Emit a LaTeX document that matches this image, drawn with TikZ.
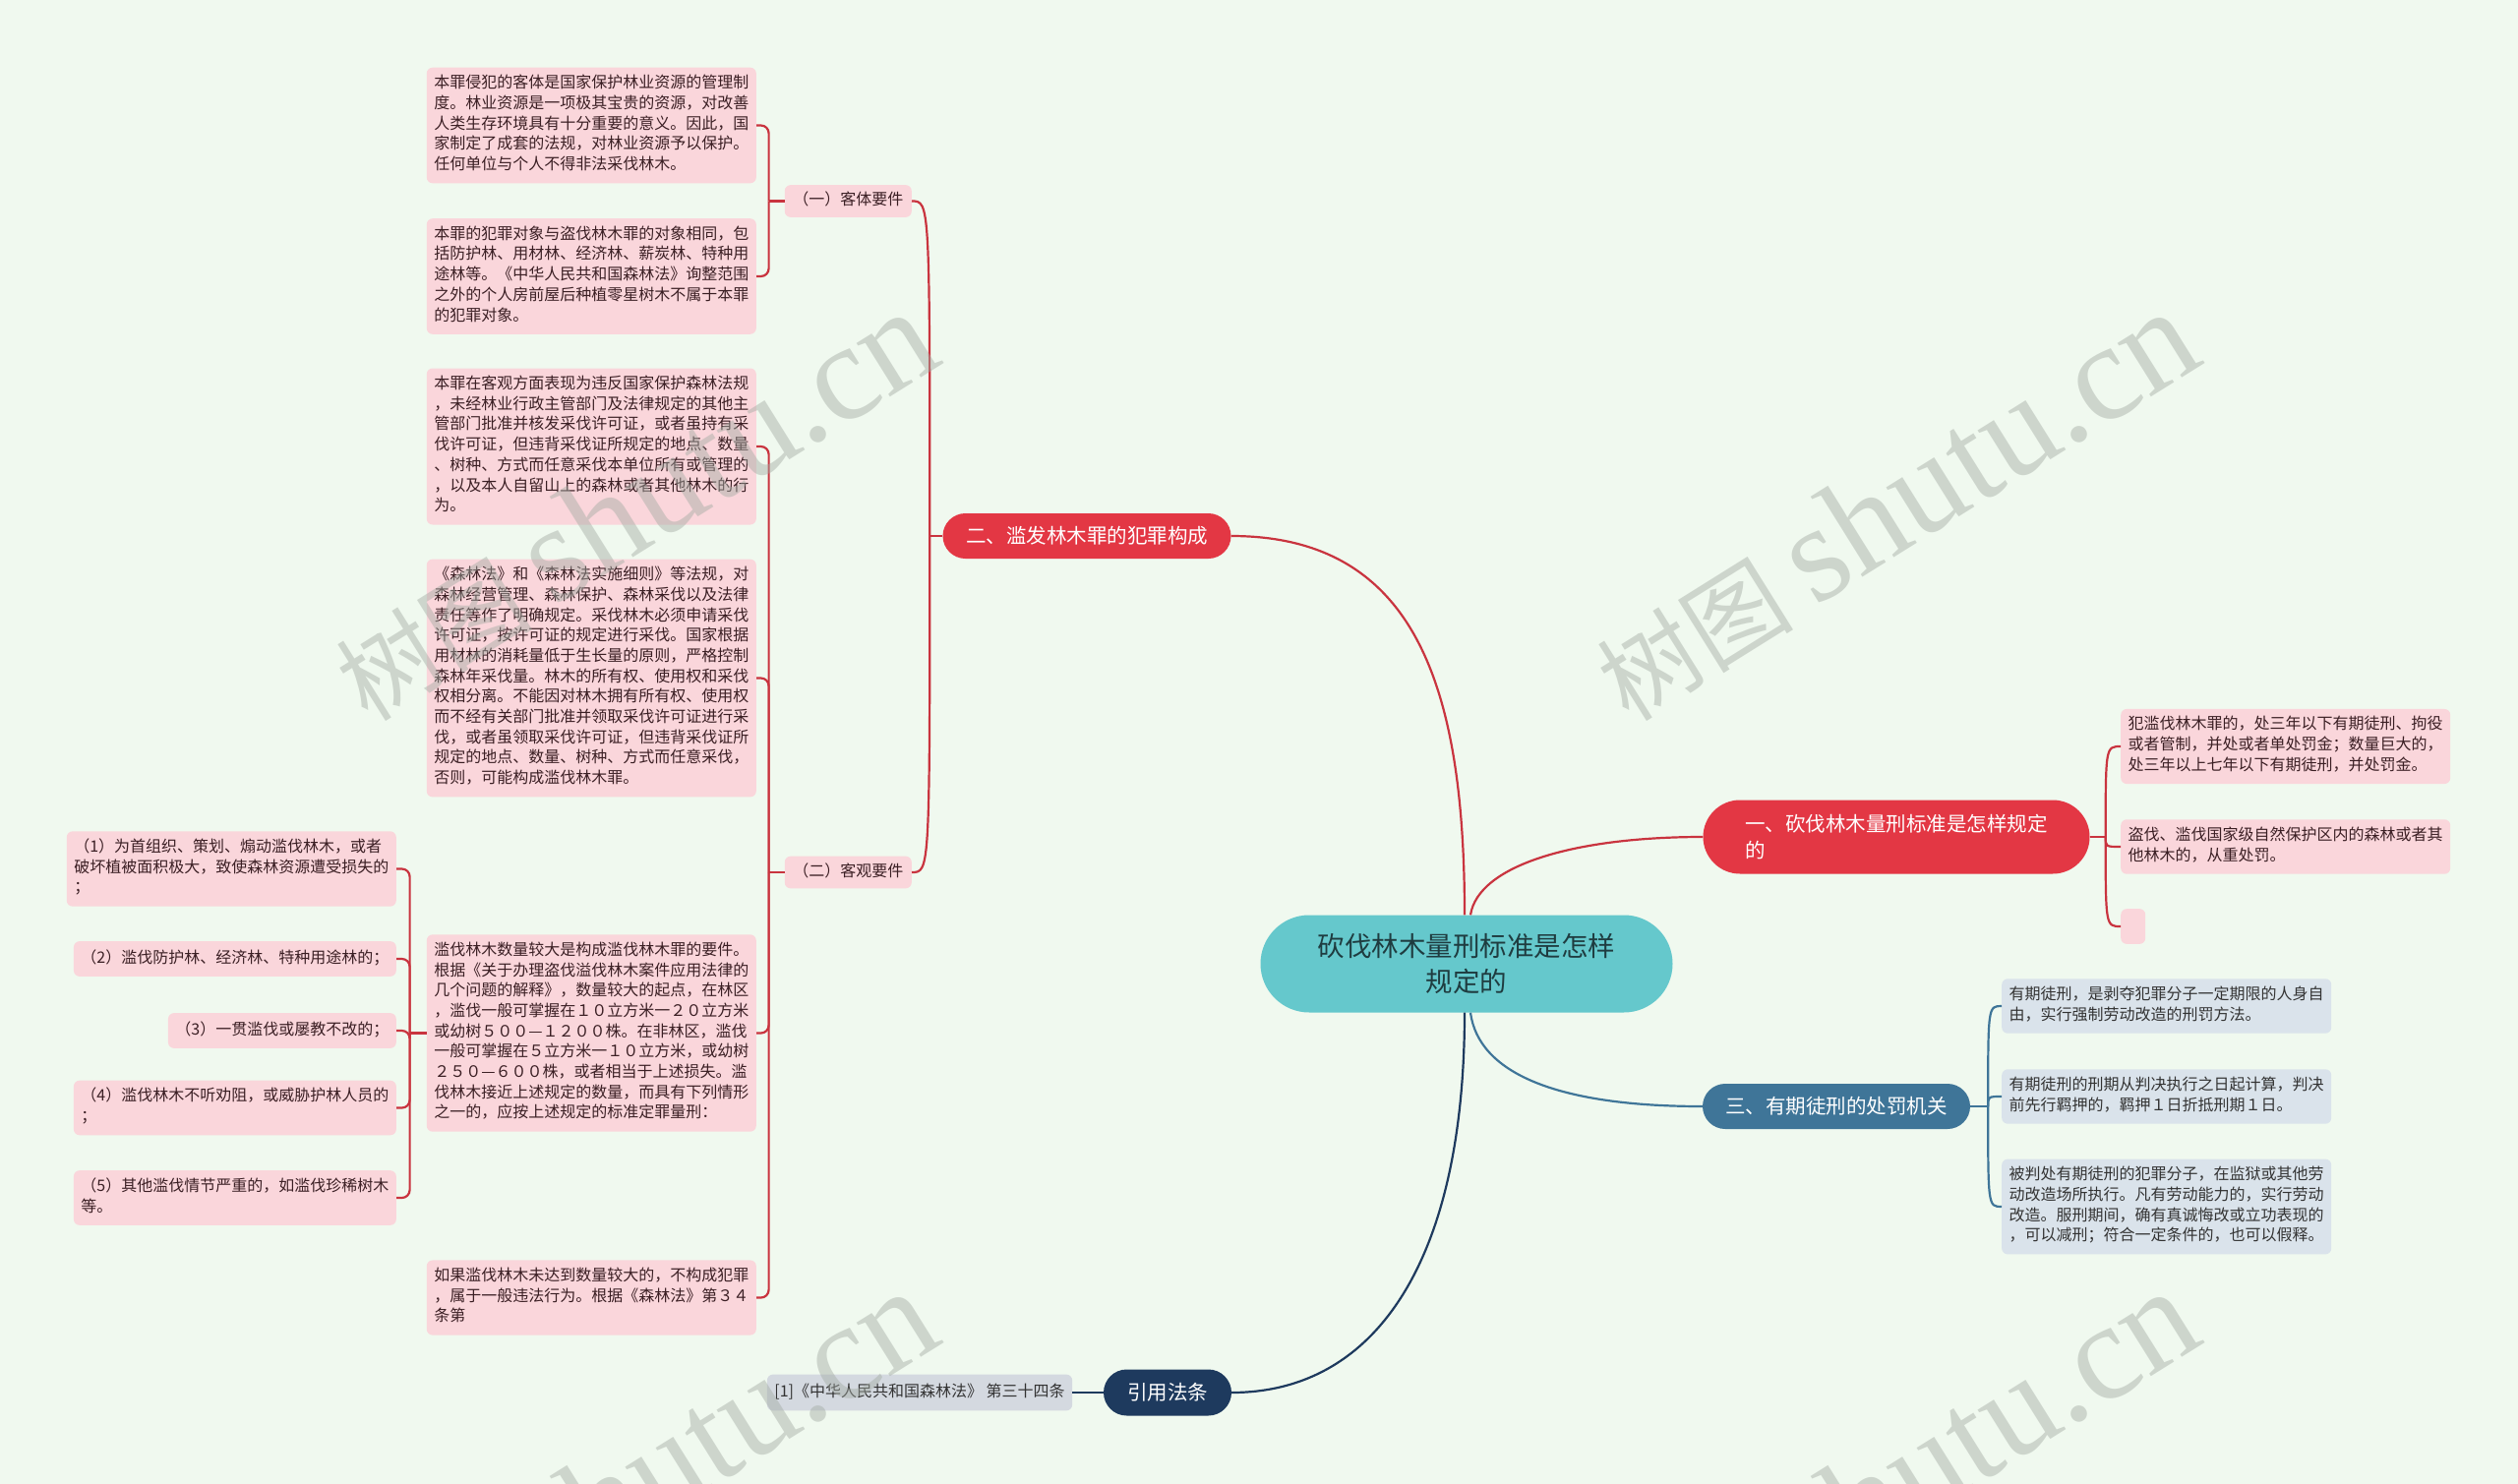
\documentclass[tikz,border=0pt]{standalone}
\usepackage{fontspec}
\setmainfont{Noto Sans CJK SC}
\newfontfamily\wmfont{Liberation Serif}
\usetikzlibrary{positioning,shapes.misc}
\definecolor{bgc}{HTML}{F0F9EF}
\definecolor{rootc}{HTML}{65C8CC}
\definecolor{rootx}{HTML}{1F3C40}
\definecolor{redc}{HTML}{E33744}
\definecolor{redl}{HTML}{C9343F}
\definecolor{pinkc}{HTML}{FAD6DB}
\definecolor{pinkx}{HTML}{3B1F24}
\definecolor{bluec}{HTML}{3F7598}
\definecolor{paleb}{HTML}{DAE3EB}
\definecolor{navyc}{HTML}{1E3A5E}
\definecolor{greyc}{HTML}{D4D9E0}
\definecolor{wmc}{HTML}{A3ABA3}

\begin{document}
\begin{tikzpicture}[x=1pt,y=-1pt,
  root/.style={rounded rectangle,fill=rootc,text=rootx,inner sep=0pt,minimum width=419pt,minimum height=99pt,align=center,font=\fontsize{27.5}{36.7}\selectfont},
  pill/.style={rounded rectangle,text=white,inner sep=0pt,minimum height=46pt,font=\fontsize{20.5}{27.7}\selectfont},
  leaf/.style={rounded corners=6pt,fill=pinkc,text=pinkx,align=left,inner xsep=7.5pt,inner ysep=7.5pt,font=\fontsize{16}{20.7}\selectfont,execute at begin node=\strut,execute at end node=\strut},
  bleaf/.style={leaf,fill=paleb,text=black!80},
  sub/.style={leaf,inner xsep=8.5pt,inner ysep=6pt},
  rl/.style={draw=redl,line width=2.2pt},
  bl/.style={draw=bluec,line width=2.2pt},
  nl/.style={draw=navyc,line width=2.2pt},
  wm/.style={text=wmc,opacity=0.45,rotate=32}]
  \fill[bgc] (0,0) rectangle (2560,1509);
  \useasboundingbox (0,0) rectangle (2560,1509);

  \node[root] (root) at (1491,980) {砍伐林木量刑标准是怎样\\规定的};
  \node[pill,fill=redc,align=left,minimum width=393pt,minimum height=75pt] (std) at (1928,851) {一、砍伐林木量刑标准是怎样规定\\的};
  \node[pill,fill=redc,minimum width=293pt] (crime) at (1105,545) {二、滥发林木罪的犯罪构成};
  \node[pill,fill=bluec,minimum width=272pt] (term) at (1867,1125) {三、有期徒刑的处罚机关};
  \node[pill,fill=navyc,minimum width=130pt,minimum height=47pt] (ref) at (1187,1416) {引用法条};
  \node[leaf,fill=greyc,text=black!80,inner ysep=8pt] (refs) at (935,1416) {[1]《中华人民共和国森林法》 第三十四条};

  \node[leaf,anchor=west] (std1) at (2156,759) {犯滥伐林木罪的，处三年以下有期徒刑、拘役\\或者管制，并处或者单处罚金；数量巨大的，\\处三年以上七年以下有期徒刑，并处罚金。};
  \node[leaf,anchor=west] (std2) at (2156,861) {盗伐、滥伐国家级自然保护区内的森林或者其\\他林木的，从重处罚。};
  \node[leaf,anchor=west,minimum width=25pt] (std3) at (2156,942) {};

  \node[bleaf,anchor=west] (term1) at (2035,1023) {有期徒刑，是剥夺犯罪分子一定期限的人身自\\由，实行强制劳动改造的刑罚方法。};
  \node[bleaf,anchor=west] (term2) at (2035,1115) {有期徒刑的刑期从判决执行之日起计算，判决\\前先行羁押的，羁押１日折抵刑期１日。};
  \node[bleaf,anchor=west] (term3) at (2035,1227) {被判处有期徒刑的犯罪分子，在监狱或其他劳\\动改造场所执行。凡有劳动能力的，实行劳动\\改造。服刑期间，确有真诚悔改或立功表现的\\，可以减刑；符合一定条件的，也可以假释。};

  \node[sub,anchor=east] (ke) at (927,204.5) {（一）客体要件};
  \node[sub,anchor=east] (kg) at (927,887) {（二）客观要件};

  \node[leaf,anchor=east] (ke1) at (769,127.5) {本罪侵犯的客体是国家保护林业资源的管理制\\度。林业资源是一项极其宝贵的资源，对改善\\人类生存环境具有十分重要的意义。因此，国\\家制定了成套的法规，对林业资源予以保护。\\任何单位与个人不得非法采伐林木。};
  \node[leaf,anchor=east] (ke2) at (769,281) {本罪的犯罪对象与盗伐林木罪的对象相同，包\\括防护林、用材林、经济林、薪炭林、特种用\\途林等。《中华人民共和国森林法》询整范围\\之外的个人房前屋后种植零星树木不属于本罪\\的犯罪对象。};
  \node[leaf,anchor=east] (kg1) at (769,454) {本罪在客观方面表现为违反国家保护森林法规\\，未经林业行政主管部门及法律规定的其他主\\管部门批准并核发采伐许可证，或者虽持有采\\伐许可证，但违背采伐证所规定的地点、数量\\、树种、方式而任意采伐本单位所有或管理的\\，以及本人自留山上的森林或者其他林木的行\\为。};
  \node[leaf,anchor=east] (kg2) at (769,689.5) {《森林法》和《森林法实施细则》等法规，对\\森林经营管理、森林保护、森林采伐以及法律\\责任等作了明确规定。采伐林木必须申请采伐\\许可证，按许可证的规定进行采伐。国家根据\\用材林的消耗量低于生长量的原则，严格控制\\森林年采伐量。林木的所有权、使用权和采伐\\权相分离。不能因对林木拥有所有权、使用权\\而不经有关部门批准并领取采伐许可证进行采\\伐，或者虽领取采伐许可证，但违背采伐证所\\规定的地点、数量、树种、方式而任意采伐，\\否则，可能构成滥伐林木罪。};
  \node[leaf,anchor=east] (kg3) at (769,1050.5) {滥伐林木数量较大是构成滥伐林木罪的要件。\\根据《关于办理盗伐溢伐林木案件应用法律的\\几个问题的解释》，数量较大的起点，在林区\\，滥伐一般可掌握在１０立方米一２０立方米\\或幼树５００—１２００株。在非林区，滥伐\\一般可掌握在５立方米一１０立方米，或幼树\\２５０—６００株，或者相当于上述损失。滥\\伐林木接近上述规定的数量，而具有下列情形\\之一的，应按上述规定的标准定罪量刑：};
  \node[leaf,anchor=east] (kg4) at (769,1319.5) {如果滥伐林木未达到数量较大的，不构成犯罪\\，属于一般违法行为。根据《森林法》第３４\\条第};

  \node[leaf,anchor=east] (kgc1) at (403,883.5) {（1）为首组织、策划、煽动滥伐林木，或者\\破坏植被面积极大，致使森林资源遭受损失的\\；};
  \node[leaf,anchor=east] (kgc2) at (403,975) {（2）滥伐防护林、经济林、特种用途林的；};
  \node[leaf,anchor=east] (kgc3) at (403,1048) {（3）一贯滥伐或屡教不改的；};
  \node[leaf,anchor=east] (kgc4) at (403,1126.5) {（4）滥伐林木不听劝阻，或威胁护林人员的\\；};
  \node[leaf,anchor=east] (kgc5) at (403,1218) {（5）其他滥伐情节严重的，如滥伐珍稀树木\\等。};

  \draw[rl] ([xshift=4pt]root.north) .. controls (1503,880) and (1600,851) .. (std.west);
  \draw[rl] ([xshift=-2pt]root.north) .. controls (1489,700) and (1440,545) .. (crime.east);
  \draw[bl] ([xshift=4pt]root.south) .. controls (1503,1090) and (1580,1125) .. (term.west);
  \draw[nl] ([xshift=-2pt]root.south) .. controls (1489,1280) and (1400,1416) .. (ref.east);
  \draw[nl] (ref.west) -- (refs.east);

  \coordinate (j1) at ([xshift=16pt]std.east);
  \draw[rl] (std.east) -- (j1);
  \foreach \n in {std1,std2,std3} \draw[rl] (j1) .. controls (j1 |- \n.west) .. (\n.west);
  \coordinate (j3) at ([xshift=18pt]term.east);
  \draw[bl] (term.east) -- (j3);
  \foreach \n in {term1,term2,term3} \draw[bl] (j3) .. controls (j3 |- \n.west) .. (\n.west);
  \coordinate (j2) at ([xshift=-13pt]crime.west);
  \draw[rl] (crime.west) -- (j2);
  \foreach \n in {ke,kg} \draw[rl] (j2) .. controls (j2 |- \n.east) .. (\n.east);
  \coordinate (jke) at ([xshift=-16pt]ke.west);
  \draw[rl] (ke.west) -- (jke);
  \foreach \n in {ke1,ke2} \draw[rl,rounded corners=8pt] (\n.east) -| (jke);
  \coordinate (jkg) at ([xshift=-16pt]kg.west);
  \draw[rl] (kg.west) -- (jkg);
  \foreach \n in {kg1,kg2,kg3,kg4} \draw[rl,rounded corners=8pt] (\n.east) -| (jkg);
  \coordinate (jc) at ([xshift=-17pt]kg3.west);
  \draw[rl] (kg3.west) -- (jc);
  \foreach \n in {kgc1,kgc2,kgc3,kgc4,kgc5} \draw[rl,rounded corners=8pt] (\n.east) -| (jc);

  \begin{scope}
    \clip (0,0) rectangle (2560,1509);
    \foreach \x/\y in {645/514,1927/514,645/1510,1927/1510}
      \node[wm] at (\x,\y) {{\fontsize{100}{100}\selectfont 树图}\hspace{22pt}{\wmfont\fontsize{140}{140}\selectfont shutu.cn}};
  \end{scope}
\end{tikzpicture}
\end{document}
